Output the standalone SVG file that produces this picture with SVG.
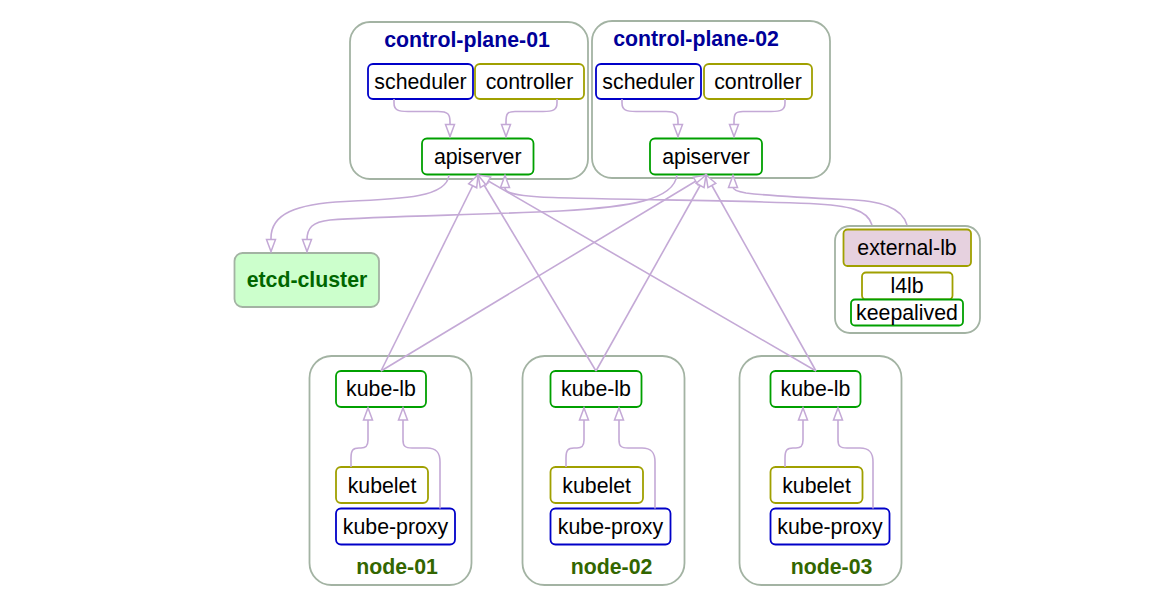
<svg xmlns="http://www.w3.org/2000/svg" width="1173" height="598" viewBox="0 0 1173 598">
  <defs>
    <marker id="arrow" markerUnits="userSpaceOnUse" markerWidth="14" markerHeight="11" refX="12.5" refY="5" orient="auto" overflow="visible">
      <path d="M0.5,0.5 L12.5,5 L0.5,9.5 Z" fill="#ffffff" stroke="#c4a9d6" stroke-width="1.5"/>
    </marker>
  </defs>
  <style>
    text { font-family: "Liberation Sans", Arial, sans-serif; font-size: 21.3px; text-anchor: middle; fill: #000000; }
    .cluster { fill: #ffffff; stroke: #a3b3a3; stroke-width: 1.8; }
    .box { fill: #ffffff; stroke-width: 1.8; }
    .blue { stroke: #0000c8; }
    .olive { stroke: #a0a000; }
    .green { stroke: #00a000; }
    .cp-title { font-weight: bold; fill: #000099; }
    .node-title { font-weight: bold; fill: #336600; }
    .etcd { fill: #ccffcc; stroke: #a3b3a3; stroke-width: 1.8; }
    .etcd-title { font-weight: bold; fill: #006600; }
    .ext { fill: #e6d1df; }
    .edge { fill: none; stroke: #c4a9d6; stroke-width: 1.6; marker-end: url(#arrow); }
  </style>

  <rect width="1173" height="598" fill="#ffffff"/>

  <!-- control plane 01 -->
  <g id="control-plane-01">
    <rect class="cluster" x="350" y="22" width="238" height="157" rx="20"/>
    <text class="cp-title" x="467" y="47">control-plane-01</text>
    <g id="cp1-scheduler">
      <rect class="box blue" x="368" y="64" width="105" height="35" rx="5"/>
      <text x="420.5" y="89">scheduler</text>
    </g>
    <g id="cp1-controller">
      <rect class="box olive" x="475" y="64" width="109" height="35" rx="5"/>
      <text x="529.5" y="89">controller</text>
    </g>
    <g id="cp1-apiserver">
      <rect class="box green" x="422" y="138.5" width="111.5" height="36" rx="5"/>
      <text x="477.7" y="164">apiserver</text>
    </g>
  </g>

  <!-- control plane 02 -->
  <g id="control-plane-02">
    <rect class="cluster" x="592" y="21" width="238" height="157" rx="20"/>
    <text class="cp-title" x="696" y="46">control-plane-02</text>
    <g id="cp2-scheduler">
      <rect class="box blue" x="596" y="64" width="105" height="35" rx="5"/>
      <text x="648.5" y="89">scheduler</text>
    </g>
    <g id="cp2-controller">
      <rect class="box olive" x="704" y="64" width="108" height="35" rx="5"/>
      <text x="758" y="89">controller</text>
    </g>
    <g id="cp2-apiserver">
      <rect class="box green" x="650" y="138.5" width="112" height="36" rx="5"/>
      <text x="706" y="164">apiserver</text>
    </g>
  </g>

  <!-- etcd -->
  <g id="etcd-cluster">
    <rect class="etcd" x="234.5" y="253" width="144.5" height="54" rx="8"/>
    <text class="etcd-title" x="307" y="287">etcd-cluster</text>
  </g>

  <!-- external load balancer -->
  <g id="external-lb-group">
    <rect class="cluster" x="835" y="226" width="145" height="107" rx="15"/>
    <g id="external-lb">
      <rect class="box olive ext" x="843.5" y="229.5" width="127.5" height="36.5" rx="4"/>
      <text x="907" y="255">external-lb</text>
    </g>
    <g id="l4lb">
      <rect class="box olive" x="862" y="272.5" width="90.5" height="27" rx="4"/>
      <text x="907" y="293">l4lb</text>
    </g>
    <g id="keepalived">
      <rect class="box green" x="851" y="299.5" width="112" height="26" rx="4"/>
      <text x="907" y="320">keepalived</text>
    </g>
  </g>

  <!-- worker nodes -->
  <g id="node-01">
    <rect class="cluster" x="309.5" y="356" width="162" height="229" rx="22"/>
    <text class="node-title" x="397" y="574">node-01</text>
    <g id="node-01-kube-lb">
      <rect class="box green" x="336" y="371" width="90" height="36" rx="5"/>
      <text x="381" y="396">kube-lb</text>
    </g>
    <g id="node-01-kubelet">
      <rect class="box olive" x="336" y="467" width="92" height="36" rx="5"/>
      <text x="382" y="492.5">kubelet</text>
    </g>
    <g id="node-01-kube-proxy">
      <rect class="box blue" x="336" y="508.5" width="119" height="36" rx="5"/>
      <text x="395.5" y="534">kube-proxy</text>
    </g>
  </g>

  <g id="node-02">
    <rect class="cluster" x="522.5" y="356" width="162" height="229" rx="22"/>
    <text class="node-title" x="611.5" y="574">node-02</text>
    <g id="node-02-kube-lb">
      <rect class="box green" x="550.5" y="371" width="91" height="36" rx="5"/>
      <text x="596" y="396">kube-lb</text>
    </g>
    <g id="node-02-kubelet">
      <rect class="box olive" x="550.5" y="467" width="92.5" height="36" rx="5"/>
      <text x="596.7" y="492.5">kubelet</text>
    </g>
    <g id="node-02-kube-proxy">
      <rect class="box blue" x="550.5" y="508.5" width="120" height="36" rx="5"/>
      <text x="610.5" y="534">kube-proxy</text>
    </g>
  </g>

  <g id="node-03">
    <rect class="cluster" x="739.5" y="356" width="162" height="229" rx="22"/>
    <text class="node-title" x="831.5" y="574">node-03</text>
    <g id="node-03-kube-lb">
      <rect class="box green" x="770.5" y="371" width="90" height="36" rx="5"/>
      <text x="815.5" y="396">kube-lb</text>
    </g>
    <g id="node-03-kubelet">
      <rect class="box olive" x="770.5" y="467" width="92" height="36" rx="5"/>
      <text x="816.5" y="492.5">kubelet</text>
    </g>
    <g id="node-03-kube-proxy">
      <rect class="box blue" x="770.5" y="508.5" width="119" height="36" rx="5"/>
      <text x="830" y="534">kube-proxy</text>
    </g>
  </g>

  <!-- connectors -->
  <g id="connectors">
    <!-- control plane internals -->
    <path class="edge" d="M394,99 L394,103 C394,110 398,111.5 408,111.5 L438,111.5 C448,111.5 450,114 450,122 L450,136.5"/>
    <path class="edge" d="M557,99 L557,103 C557,110 553,111.5 543,111.5 L515,111.5 C507,111.5 506,114 506,122 L506,136.5"/>
    <path class="edge" d="M622,99 L622,103 C622,110 626,111.5 636,111.5 L666,111.5 C676,111.5 678,114 678,122 L678,136.5"/>
    <path class="edge" d="M785,99 L785,103 C785,110 781,111.5 771,111.5 L743,111.5 C735,111.5 734,114 734,122 L734,136.5"/>

    <!-- apiservers to etcd -->
    <path class="edge" d="M449,175 C447,197 405,199 345,201.5 C295,204 271,214 271,238 L271,251.5"/>
    <path class="edge" d="M677,175 C674,200 630,207 560,211 C480,215 380,216 330,220 C312,222 307,228 307,240 L307,251.5"/>

    <!-- external load balancer to apiservers -->
    <path class="edge" d="M872,225 C868,210 850,205.5 810,203.5 C740,200.5 600,199.5 540,197 C515,195.5 505,193 505,188 L505,175.5"/>
    <path class="edge" d="M907,225 C902,208 882,200.5 845,199.5 C800,197.5 762,195 746,193 C737,191.5 733,190 733,187 L733,175.5"/>

    <!-- kube-lb to apiservers -->
    <path class="edge" d="M381,371 L478,175"/>
    <path class="edge" d="M381,371 L706,175"/>
    <path class="edge" d="M596,371 L478,175"/>
    <path class="edge" d="M596,371 L706,175"/>
    <path class="edge" d="M816,371 L478,175"/>
    <path class="edge" d="M816,371 L706,175"/>

    <!-- node-01 internals -->
    <path class="edge" d="M351,467 L351,458 C351,450 353,448 359,448 L361,448 C366,448 368,446 368,440 L368,408"/>
    <path class="edge" d="M440,508.5 L440,462 C440,452 436,448 427,448 L412,448 C405,448 403,446 403,440 L403,408"/>
    <!-- node-02 internals -->
    <path class="edge" d="M566,467 L566,458 C566,450 568,448 574,448 L577,448 C582,448 584,446 584,440 L584,408"/>
    <path class="edge" d="M655,508.5 L655,462 C655,452 651,448 642,448 L628,448 C621,448 619,446 619,440 L619,408"/>
    <!-- node-03 internals -->
    <path class="edge" d="M785,467 L785,458 C785,450 787,448 793,448 L796,448 C801,448 803,446 803,440 L803,408"/>
    <path class="edge" d="M873,508.5 L873,462 C873,452 869,448 860,448 L847,448 C840,448 838,446 838,440 L838,408"/>
  </g>
</svg>
